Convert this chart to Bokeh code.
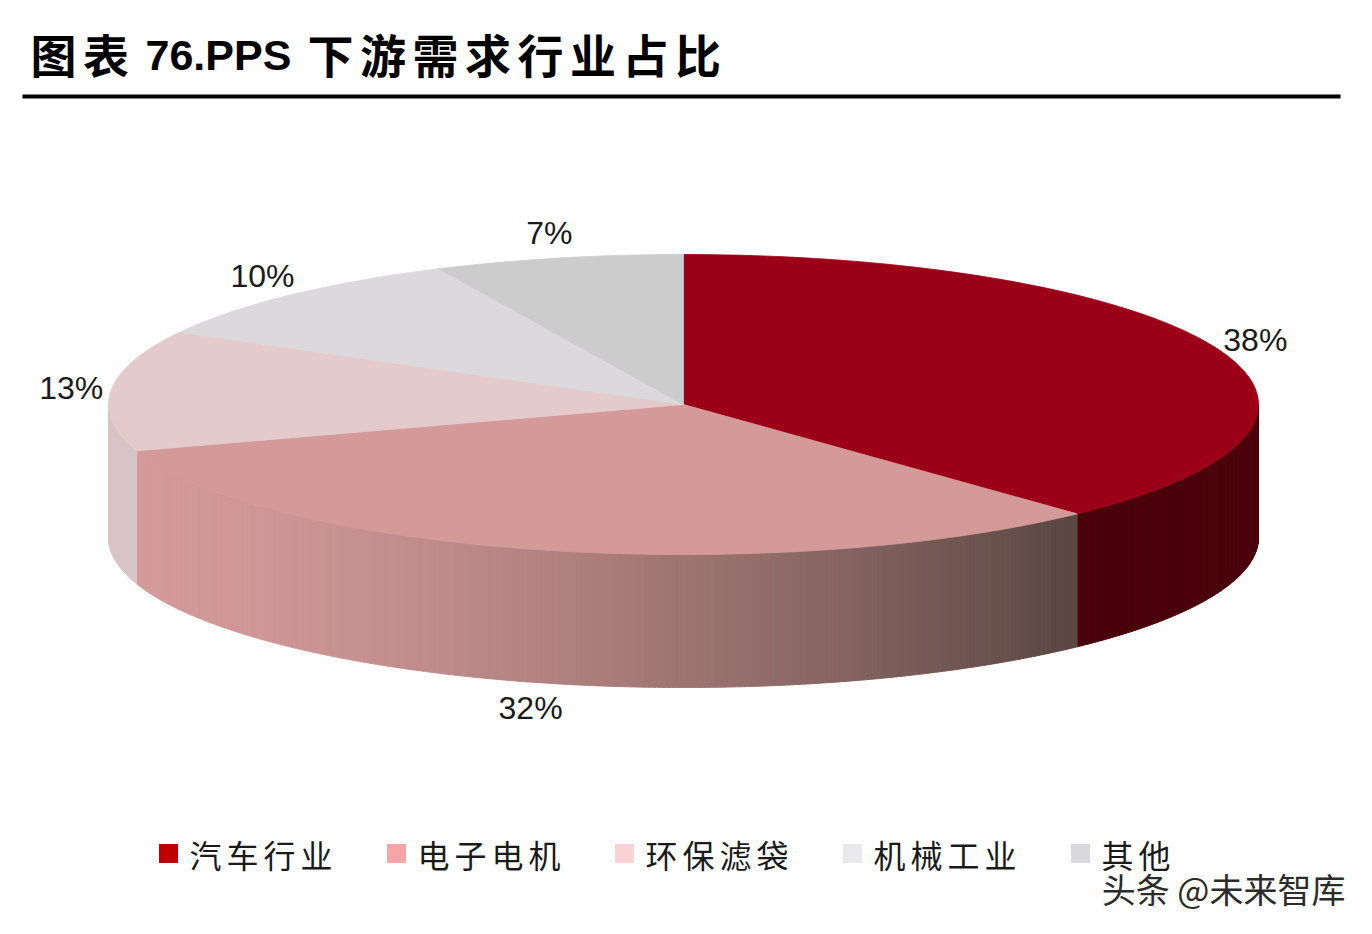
import numpy as np
from bokeh.plotting import figure
from bokeh.models import Range1d
from bokeh.core.properties import value
from bokeh.embed import file_html
from bokeh.resources import INLINE

# chart content
title_parts = ["图表", "76.PPS", "下游需求行业占比"]
industries = ["汽车行业", "电子电机", "环保滤袋", "机械工业", "其他"]
shares = [38, 32, 13, 10, 7]
labels = [f"{s}%" for s in shares]
source_note = "头条 @未来智库"

# colours
top_colors = ["#9C0018", "#D49A9A", "#E4CACA", "#DBD9DB", "#CDCCCD"]
side_light = ["#4A000A", "#D49A9A", "#D8C4C6", "#C8C6C8", "#BDBCBD"]
side_dark = ["#4A000A", "#5A4641", "#D8C4C6", "#C8C6C8", "#BDBCBD"]
legend_colors = ["#C00000", "#F4A6A6", "#FAD4D4", "#E9E9ED", "#D9D9DD"]

W, H = 1356, 918
CX, CY = 683, 404        # centre of the top face (page pixels)
RX, RY = 575, 150        # half axes of the top ellipse
DEPTH = 133              # thickness of the disc
CJK = "Noto Sans CJK SC"
NUM = "Liberation Sans"


def hex_rgb(h):
    h = h.lstrip("#")
    return np.array([int(h[i:i + 2], 16) for i in (0, 2, 4)], dtype=float)


def mix(c1, c2, f):
    c = hex_rgb(c1) * (1 - f) + hex_rgb(c2) * f
    return "#%02x%02x%02x" % tuple(int(round(v)) for v in c)


def ell(t, dy=0.0):
    return CX + RX * np.cos(t), CY - RY * np.sin(t) + dy


def spaced(text, x0, step):
    # one glyph per character so the wide letter spacing can be kept
    return [x0 + step * i for i in range(len(text))], list(text)


p = figure(width=W, height=H, x_range=Range1d(0, W), y_range=Range1d(H, 0),
           output_backend="svg", toolbar_location=None, min_border=0)
p.axis.visible = False
p.grid.visible = False
p.outline_line_color = None
p.background_fill_color = "white"
p.border_fill_color = "white"

# slice angles, clockwise from 12 o'clock
fracs = np.array(shares) / sum(shares)
ends = np.pi / 2 - 2 * np.pi * np.cumsum(fracs)
starts = np.concatenate([[np.pi / 2], ends[:-1]])

# side walls (front half only: angles between -pi and 0)
sx, sy, sc = [], [], []
for i in range(len(shares)):
    lo, hi = max(ends[i], -np.pi), min(starts[i], 0.0)
    if lo >= hi:
        continue
    x_lo, x_hi = ell(lo)[0], ell(hi)[0]
    n = max(2, int(np.degrees(hi - lo) * 2))
    edges = np.linspace(hi, lo, n + 1)
    for k in range(n):
        t = np.linspace(edges[k], edges[k + 1], 4)
        xt, yt = ell(t)
        xb, yb = ell(t[::-1], DEPTH)
        f = (ell((edges[k] + edges[k + 1]) / 2)[0] - x_lo) / (x_hi - x_lo) if x_hi != x_lo else 0
        f = min(max(f, 0), 1) ** 1.5
        sx.append(list(xt) + list(xb))
        sy.append(list(yt) + list(yb))
        sc.append(mix(side_light[i], side_dark[i], f))
p.patches(sx, sy, fill_color=sc, line_color=sc, line_width=1)

# top faces
tx, ty = [], []
for i in range(len(shares)):
    t = np.linspace(starts[i], ends[i], max(3, int(np.degrees(starts[i] - ends[i]))))
    xa, ya = ell(t)
    tx.append([CX] + list(xa))
    ty.append([CY] + list(ya))
p.patches(tx, ty, fill_color=top_colors, line_color=top_colors, line_width=0.8)

# percentage labels just outside each slice
lx, ly = [], []
for i in range(len(shares)):
    m = (starts[i] + ends[i]) / 2
    ex, ey = ell(m, DEPTH if np.sin(m) < 0 else 0)
    lx.append(ex + np.cos(m) * 40)
    ly.append(ey - np.sin(m) * 26)
p.text(lx, ly, text=labels, text_font=value(NUM), text_font_size="32px",
       text_color="#1a1a1a", text_align="center", text_baseline="middle")

# title (wide letter spacing) and rules
cjx, cjt = [], []
for part, x0 in zip(title_parts, [30, 145, 307]):
    if part.isascii():
        p.text([x0], [54], text=[part], text_font=value(NUM), text_font_size="43px",
               text_font_style="bold", text_color="#000000", text_baseline="middle")
    else:
        xs, cs = spaced(part, x0, 52.5)
        cjx += xs
        cjt += cs
p.text(cjx, [52] * len(cjt), text=cjt, text_font=value(CJK), text_font_size="46px",
       text_font_style="bold", text_color="#000000", text_baseline="middle")
p.segment(x0=[22, 22], y0=[96, 923], x1=[1340, 1340], y1=[96, 923],
          line_color="#000000", line_width=4)

# legend
lgx = [168 + 228 * i for i in range(len(industries))]
p.scatter(lgx, [853] * len(industries), marker="square", size=19,
          fill_color=legend_colors, line_color=None)
lex, let = [], []
for x, name in zip(lgx, industries):
    xs, cs = spaced(name, x + 21, 37)
    lex += xs
    let += cs
p.text(lex, [853] * len(let), text=let, text_font=value(CJK), text_font_size="32px",
       text_color="#1a1a1a", text_baseline="middle")

# watermark
p.text([1345], [888], text=[source_note], text_font=value(CJK), text_font_size="34px",
       text_color="#2b2b2b", text_align="right", text_baseline="middle")

open("out.html", "w").write(file_html(p, INLINE))
